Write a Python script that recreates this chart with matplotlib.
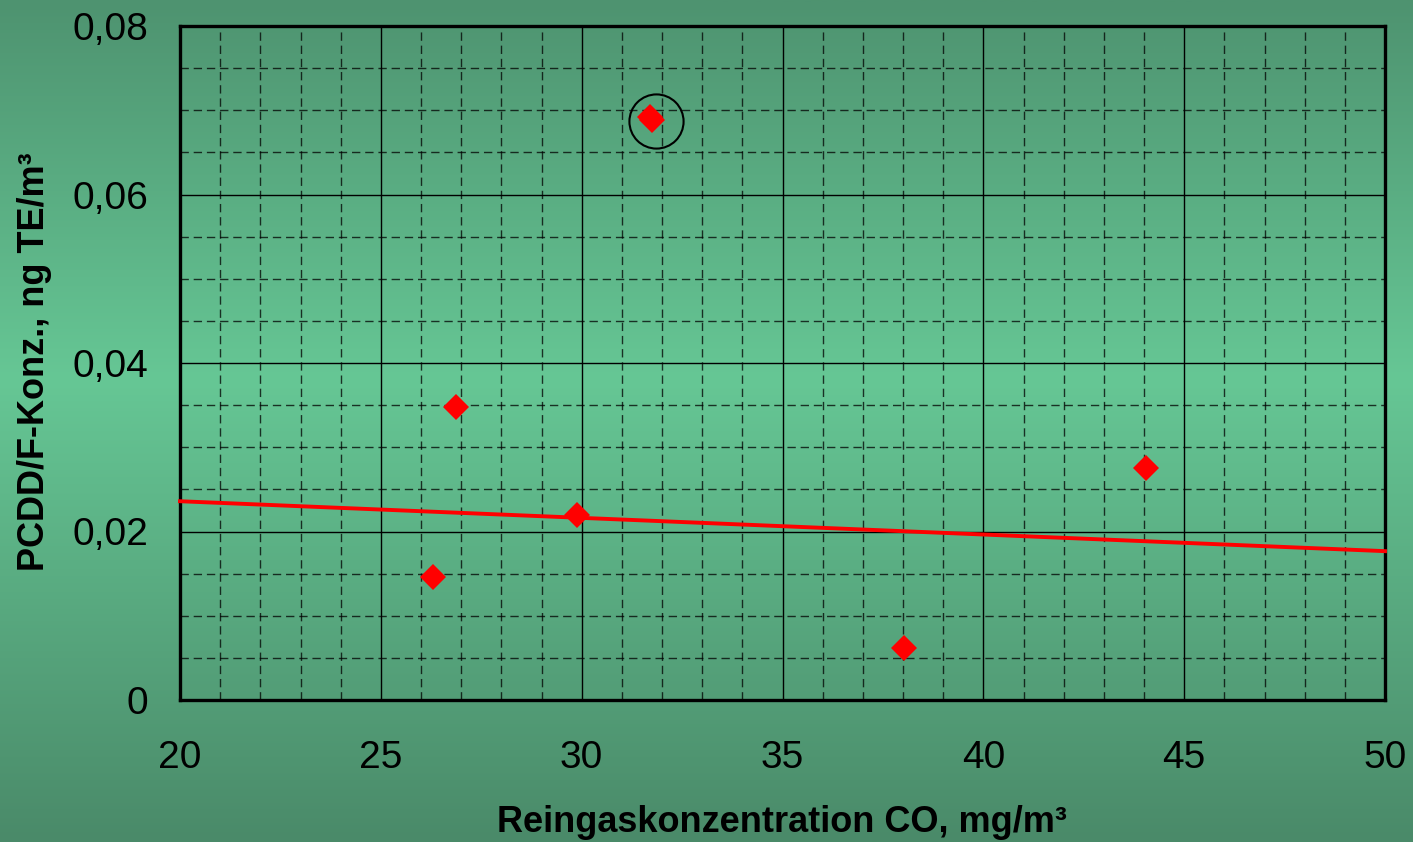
import matplotlib
matplotlib.use("Agg")
import matplotlib.pyplot as plt
import numpy as np
from matplotlib.colors import LinearSegmentedColormap
from matplotlib.ticker import MultipleLocator, FuncFormatter

# measured points, CO in mg/m3, PCDD/F in ng TE/m3
co = [31.7, 31.75, 26.87, 26.30, 29.88, 38.02, 44.05]
pcdd = [0.0692, 0.0688, 0.0348, 0.0146, 0.0220, 0.0062, 0.0275]
outlier = (31.73, 0.0689)   # circled point, left out of the trend

x_label = "Reingaskonzentration CO, mg/m³"
y_label = "PCDD/F-Konz., ng TE/m³"

plt.rcParams['font.family'] = ['Liberation Sans', 'DejaVu Sans']

fig = plt.figure(figsize=(14.13, 8.42), dpi=100)

# background gradient (dark - light - dark, top to bottom)
bg = fig.add_axes([0, 0, 1, 1], zorder=-10)
cmap = LinearSegmentedColormap.from_list(
    "bg", [(0.0, "#4e9370"), (0.45, "#66c795"), (1.0, "#4a8a69")])
grad = np.linspace(0, 1, 512).reshape(-1, 1)
bg.imshow(grad, aspect='auto', cmap=cmap, extent=[0, 1, 0, 1], origin='upper')
bg.axis('off')

W, H = 1413, 842
ax = fig.add_axes([180 / W, (H - 700) / H, 1205 / W, 674 / H])
ax.patch.set_alpha(0)

ax.set_xlim(20, 50)
ax.set_ylim(0, 0.08)
ax.xaxis.set_major_locator(MultipleLocator(5))
ax.xaxis.set_minor_locator(MultipleLocator(1))
ax.yaxis.set_major_locator(MultipleLocator(0.02))
ax.yaxis.set_minor_locator(MultipleLocator(0.005))
ax.yaxis.set_major_formatter(FuncFormatter(
    lambda v, p: "0" if abs(v) < 1e-12 else f"{v:.2f}".replace(".", ",")))

ax.grid(which='major', color='black', lw=1.0, ls='-')
ax.grid(which='minor', color='black', alpha=0.75, lw=1.0, ls=(0, (6, 3.5)))
ax.set_axisbelow(True)

ax.tick_params(which='both', length=0)
ax.tick_params(axis='x', labelsize=28, pad=29)
ax.tick_params(axis='y', labelsize=28, pad=23)

for s in ax.spines.values():
    s.set_linewidth(2.4)
    s.set_color('black')

# trend line fitted without the outlier
keep = [i for i in range(len(co)) if abs(co[i] - outlier[0]) > 0.2]
k, d = np.polyfit(np.array(co)[keep], np.array(pcdd)[keep], 1)
xs = np.array([20, 50])
ax.plot(xs, k * xs + d, color='#ff0000', lw=2.8, zorder=3, clip_on=False)

ax.plot(co, pcdd, ls='none', marker='D', ms=13, color='#ff0000', mew=0, zorder=4)
ax.plot([outlier[0] + 0.12], [outlier[1] - 0.0002], ls='none', marker='o', ms=39,
        mfc='none', mec='black', mew=1.5, zorder=5)

fig.text(782 / W, (H - 822) / H, x_label, fontsize=26, fontweight='bold',
         ha='center', va='center')
fig.text(35 / W, (H - 362) / H, y_label, fontsize=26, fontweight='bold',
         ha='center', va='center', rotation=90)

fig.savefig("out.png", dpi=100)
